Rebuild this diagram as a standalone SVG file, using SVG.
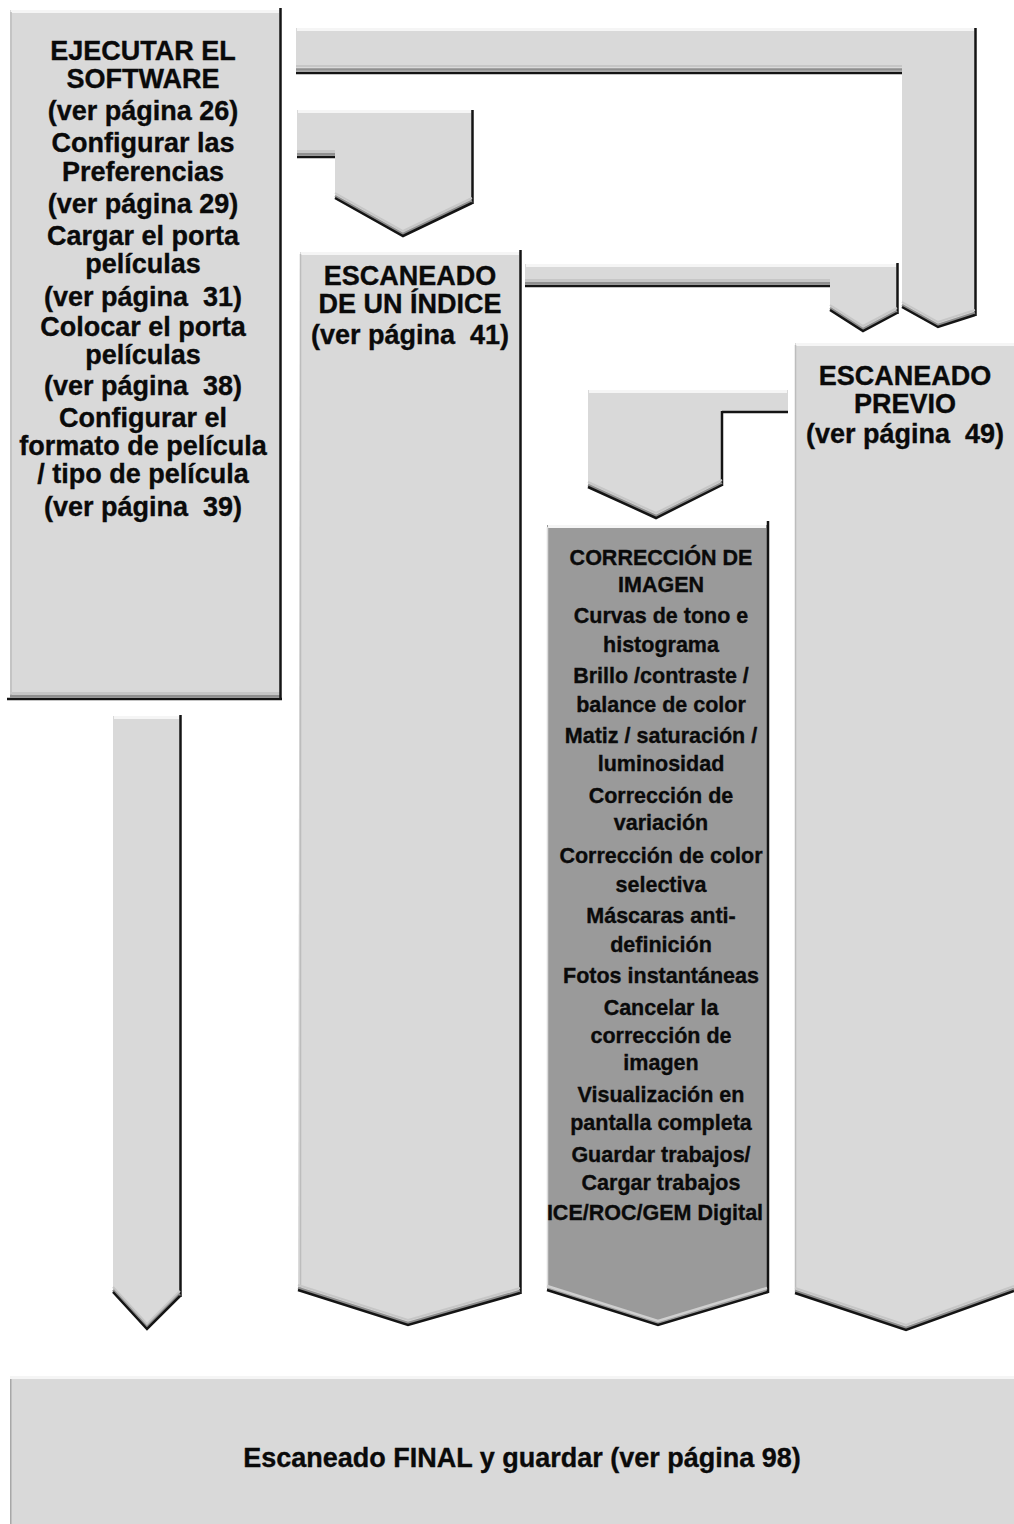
<svg xmlns="http://www.w3.org/2000/svg" width="1014" height="1524" viewBox="0 0 1014 1524" xml:space="preserve">
<style>
.f{fill:#d9d9d9}
.fd{fill:#9a9a9a}
.hl{stroke:#f5f5f5;stroke-width:3;fill:none}
.le{stroke:#bdbdbd;stroke-width:1.5;fill:none}
.b1{stroke:#c6c6c6;stroke-width:2;fill:none}
.b2{stroke:#8f8f8f;stroke-width:2.5;fill:none}
.dk{stroke:#141414;stroke-width:2.5;fill:none}
text{font-family:"Liberation Sans",Arial,Helvetica,sans-serif;font-weight:bold;fill:#0a0a0a;stroke:#0a0a0a;stroke-width:0.35;text-anchor:middle;white-space:pre}
.t26{font-size:27px}
.t20{font-size:21.5px}
</style>
<rect width="1014" height="1524" fill="#ffffff"/>

<g id="connectors">
  <g id="conn-software-previo">
    <polygon class="f" points="296,28 975,28 975,315 938,327 902,307 902,73 296,73"/>
    <line class="hl" x1="297" y1="29.5" x2="974" y2="29.5"/>
    <line class="b1" x1="296" y1="66" x2="902" y2="66"/>
    <line class="b2" x1="296" y1="69.5" x2="902" y2="69.5"/>
    <line class="dk" x1="296" y1="73" x2="902" y2="73"/>
    <line class="dk" x1="975.5" y1="28" x2="975.5" y2="316"/>
    <polyline class="b1" points="902,302 938,322 975,310"/>
    <polyline class="b2" points="902,305 938,325 975,313"/>
    <polyline class="dk" points="902,307 938,327 975,315"/>
  </g>
  <g id="conn-software-indice">
    <polygon class="f" points="297,110 472,110 472,203 403,236 335,198 335,157 297,157"/>
    <line class="hl" x1="298" y1="111.5" x2="471" y2="111.5"/>
    <line class="b1" x1="297" y1="151" x2="335" y2="151"/>
    <line class="b2" x1="297" y1="154" x2="335" y2="154"/>
    <line class="dk" x1="297" y1="157" x2="335" y2="157"/>
    <line class="dk" x1="472.5" y1="110" x2="472.5" y2="204"/>
    <polyline class="b1" points="335,193 403,231 472,198"/>
    <polyline class="b2" points="335,196 403,234 472,201"/>
    <polyline class="dk" points="335,198 403,236 472,203"/>
  </g>
  <g id="conn-indice-previo">
    <polygon class="f" points="525,264 897,264 897,313 863,331 830,310 830,286 525,286"/>
    <line class="hl" x1="526" y1="265.5" x2="896" y2="265.5"/>
    <line class="b1" x1="525" y1="280" x2="830" y2="280"/>
    <line class="b2" x1="525" y1="283" x2="830" y2="283"/>
    <line class="dk" x1="525" y1="286" x2="830" y2="286"/>
    <line class="dk" x1="897.5" y1="263" x2="897.5" y2="314"/>
    <polyline class="b1" points="830,305 863,326 897,308"/>
    <polyline class="b2" points="830,308 863,329 897,311"/>
    <polyline class="dk" points="830,310 863,331 897,313"/>
  </g>
  <g id="conn-previo-correccion">
    <polygon class="f" points="588,390 788,390 788,412 722,412 722,485 656,518 588,487"/>
    <line class="hl" x1="589" y1="391.5" x2="787" y2="391.5"/>
    <line class="dk" x1="722" y1="412" x2="788" y2="412"/>
    <line class="dk" x1="722" y1="411" x2="722" y2="486"/>
    <polyline class="b1" points="588,482 656,513 722,480"/>
    <polyline class="b2" points="588,485 656,516 722,483"/>
    <polyline class="dk" points="588,487 656,518 722,485"/>
  </g>
  <g id="conn-software-final">
    <polygon class="f" points="113,716 180,716 180,1296 147,1329 113,1292"/>
    <line class="hl" x1="114" y1="717.5" x2="179" y2="717.5"/>
    <line class="dk" x1="180.5" y1="715" x2="180.5" y2="1297"/>
    <polyline class="b1" points="113,1287 147,1324 180,1291"/>
    <polyline class="b2" points="113,1290 147,1327 180,1294"/>
    <polyline class="dk" points="113,1292 147,1329 180,1296"/>
  </g>
</g>

<g id="node-software">
  <rect class="f" x="10" y="10" width="270" height="688"/>
  <line class="hl" x1="11" y1="11.5" x2="279" y2="11.5"/>
  <line class="le" x1="11" y1="12" x2="11" y2="696"/>
  <line class="b1" x1="10" y1="693" x2="280" y2="693"/>
  <line class="b2" x1="10" y1="696" x2="280" y2="696"/>
  <line class="dk" x1="7" y1="699" x2="282" y2="699"/>
  <line class="dk" x1="280.5" y1="8" x2="280.5" y2="700"/>
  <text class="t26" x="143" y="60">EJECUTAR EL</text>
  <text class="t26" x="143" y="88">SOFTWARE</text>
  <text class="t26" x="143" y="120">(ver página 26)</text>
  <text class="t26" x="143" y="152">Configurar las</text>
  <text class="t26" x="143" y="181">Preferencias</text>
  <text class="t26" x="143" y="213">(ver página 29)</text>
  <text class="t26" x="143" y="245">Cargar el porta</text>
  <text class="t26" x="143" y="273">películas</text>
  <text class="t26" x="143" y="306">(ver página  31)</text>
  <text class="t26" x="143" y="336">Colocar el porta</text>
  <text class="t26" x="143" y="364">películas</text>
  <text class="t26" x="143" y="395">(ver página  38)</text>
  <text class="t26" x="143" y="427">Configurar el</text>
  <text class="t26" x="143" y="455">formato de película</text>
  <text class="t26" x="143" y="483">/ tipo de película</text>
  <text class="t26" x="143" y="516">(ver página  39)</text>
</g>

<g id="node-indice">
  <polygon class="f" points="300,252 520,252 520,1293 408,1325 298,1290"/>
  <line class="hl" x1="301" y1="253.5" x2="519" y2="253.5"/>
  <line class="le" x1="300.5" y1="254" x2="300.5" y2="1288"/>
  <line class="dk" x1="520.5" y1="250" x2="520.5" y2="1294"/>
  <polyline class="b1" points="298,1285 408,1320 520,1288"/>
  <polyline class="b2" points="298,1288 408,1323 520,1291"/>
  <polyline class="dk" points="298,1290 408,1325 520,1293"/>
  <text class="t26" x="410" y="285">ESCANEADO</text>
  <text class="t26" x="410" y="313">DE UN ÍNDICE</text>
  <text class="t26" x="410" y="344">(ver página  41)</text>
</g>

<g id="node-correccion">
  <polygon class="fd" points="547,525 767,525 767,1292 658,1325 547,1290"/>
  <line class="hl" x1="548" y1="526.5" x2="766" y2="526.5"/>
  <line stroke="#dcdcdc" stroke-width="1.5" x1="547.5" y1="527" x2="547.5" y2="1288"/>
  <line class="dk" x1="768" y1="521" x2="768" y2="1293"/>
  <polyline stroke="#cfcfcf" stroke-width="2.5" fill="none" points="547,1286 658,1321 767,1288"/>
  <polyline class="dk" points="547,1290 658,1325 768,1292"/>
  <text class="t20" x="661" y="565">CORRECCIÓN DE</text>
  <text class="t20" x="661" y="592">IMAGEN</text>
  <text class="t20" x="661" y="623">Curvas de tono e</text>
  <text class="t20" x="661" y="652">histograma</text>
  <text class="t20" x="661" y="683">Brillo /contraste /</text>
  <text class="t20" x="661" y="712">balance de color</text>
  <text class="t20" x="661" y="743">Matiz / saturación /</text>
  <text class="t20" x="661" y="771">luminosidad</text>
  <text class="t20" x="661" y="803">Corrección de</text>
  <text class="t20" x="661" y="830">variación</text>
  <text class="t20" x="661" y="863">Corrección de color</text>
  <text class="t20" x="661" y="892">selectiva</text>
  <text class="t20" x="661" y="923">Máscaras anti-</text>
  <text class="t20" x="661" y="952">definición</text>
  <text class="t20" x="661" y="983">Fotos instantáneas</text>
  <text class="t20" x="661" y="1015">Cancelar la</text>
  <text class="t20" x="661" y="1043">corrección de</text>
  <text class="t20" x="661" y="1070">imagen</text>
  <text class="t20" x="661" y="1102">Visualización en</text>
  <text class="t20" x="661" y="1130">pantalla completa</text>
  <text class="t20" x="661" y="1162">Guardar trabajos/</text>
  <text class="t20" x="661" y="1190">Cargar trabajos</text>
  <text class="t20" x="655" y="1220">ICE/ROC/GEM Digital</text>
</g>

<g id="node-previo">
  <polygon class="f" points="795,343 1014,343 1014,1291 906,1330 795,1293"/>
  <line class="hl" x1="796" y1="344.5" x2="1014" y2="344.5"/>
  <line class="le" x1="795.5" y1="345" x2="795.5" y2="1291"/>
  <polyline class="b1" points="795,1288 906,1325 1014,1286"/>
  <polyline class="b2" points="795,1291 906,1328 1014,1289"/>
  <polyline class="dk" points="795,1293 906,1330 1014,1291"/>
  <text class="t26" x="905" y="385">ESCANEADO</text>
  <text class="t26" x="905" y="413">PREVIO</text>
  <text class="t26" x="905" y="443">(ver página  49)</text>
</g>

<g id="node-final">
  <rect class="f" x="10" y="1378" width="1004" height="146"/>
  <line class="hl" x1="10" y1="1377.5" x2="1014" y2="1377.5"/>
  <line stroke="#a8a8a8" stroke-width="1.5" x1="10.75" y1="1379" x2="10.75" y2="1524"/>
  <text class="t26" x="522" y="1467">Escaneado FINAL y guardar (ver página 98)</text>
</g>
</svg>
